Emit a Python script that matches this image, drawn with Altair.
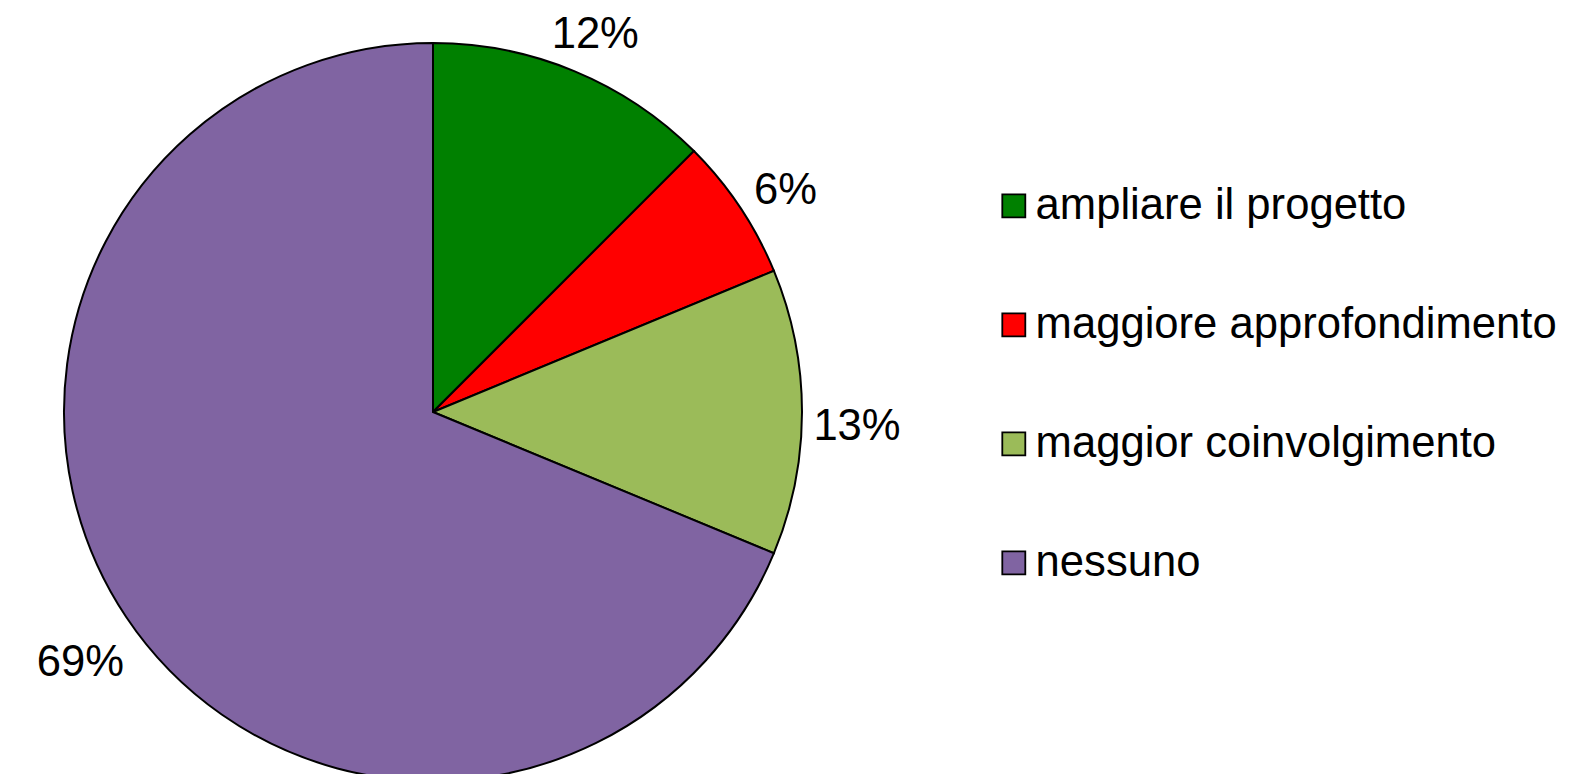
import altair as alt
import pandas as pd

categories = ["ampliare il progetto", "maggiore approfondimento", "maggior coinvolgimento", "nessuno"]
values = [12.5, 6.25, 12.5, 68.75]
labels = ["12%", "6%", "13%", "69%"]
colors = ["#008000", "#FF0000", "#9BBB59", "#8064A2"]

df = pd.DataFrame({
    "categoria": categories,
    "valore": values,
    "etichetta": labels,
    "ordine": list(range(len(categories))),
})

FONT = "Liberation Sans"

base = alt.Chart(df).encode(
    theta=alt.Theta("valore:Q", stack=True),
    order=alt.Order("ordine:Q", sort="ascending"),
)

pie = base.mark_arc(outerRadius=369, stroke="black", strokeWidth=2).encode(
    x=alt.value(425),
    y=alt.value(404),
    color=alt.Color(
        "categoria:N",
        scale=alt.Scale(domain=categories, range=colors),
        sort=categories,
        legend=alt.Legend(
            title=None,
            orient="none",
            legendX=984,
            legendY=176,
            symbolType="square",
            symbolSize=529,
            symbolStrokeWidth=1.8,
            symbolStrokeColor="black",
            symbolOpacity=1,
            labelFont=FONT,
            labelFontSize=43.6,
            labelColor="black",
            labelOffset=0,
            rowPadding=74,
            labelLimit=800,
        ),
    ),
)

text = base.mark_text(radius=424, dy=15, font=FONT, fontSize=43.6, color="black",
                      align="center", baseline="middle").encode(
    x=alt.value(425),
    y=alt.value(404),
    text="etichetta:N",
)

chart = (pie + text).properties(
    width=1553,
    height=766,
    padding=0,
    autosize=alt.AutoSizeParams(type="none"),
).configure_view(stroke=None)

chart.save("out.html", embed_options={"renderer": "svg", "actions": False})
